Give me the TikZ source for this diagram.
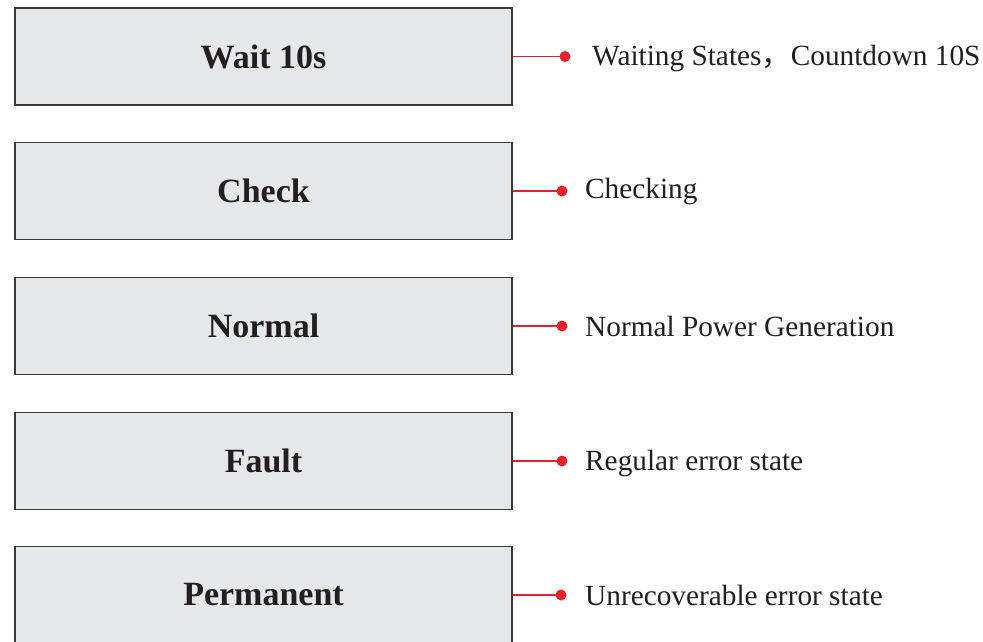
\documentclass[tikz,border=0pt]{standalone}
\usepackage{fontspec}
\setmainfont{Liberation Serif}
\newfontfamily\cjk{Noto Sans CJK SC}
\definecolor{boxfill}{HTML}{E6E7E9}
\definecolor{boxline}{HTML}{3A3A3C}
\definecolor{lead}{HTML}{E8202A}
\definecolor{ink}{HTML}{231F20}
\begin{document}
\begin{tikzpicture}[x=1pt,y=-1pt,
  statebox/.style={draw=boxline, line width=1.3pt, fill=boxfill, minimum width=497pt, minimum height=97pt, inner sep=0pt, font=\fontsize{34}{38}\selectfont\bfseries, text=ink},
  leader/.style={draw=lead, line width=1.2pt},
  leaddot/.style={circle, fill=lead, inner sep=0pt, minimum size=11pt},
  desc/.style={anchor=west, inner sep=0pt, font=\fontsize{29.3}{33}\selectfont, text=ink}]
\useasboundingbox (0,0) rectangle (983,642);
\clip (0,0) rectangle (983,642);
\node[statebox] (b1) at (263.5,56.5) {Wait 10s};
\node[statebox] (b2) at (263.5,191) {Check};
\node[statebox] (b3) at (263.5,326) {Normal};
\node[statebox] (b4) at (263.5,461) {Fault};
\node[statebox] (b5) at (263.5,595) {Permanent};
\node[leaddot] (d1) at (565,56.5) {};
\node[leaddot] (d2) at (562,191) {};
\node[leaddot] (d3) at (562,326) {};
\node[leaddot] (d4) at (562,461) {};
\node[leaddot] (d5) at (561,595) {};
\draw[leader] (b1.east) -- (d1.center);
\draw[leader] (b2.east) -- (d2.center);
\draw[leader] (b3.east) -- (d3.center);
\draw[leader] (b4.east) -- (d4.center);
\draw[leader] (b5.east) -- (d5.center);
\node[desc] (t1) at (592,58) {Waiting States{\cjk ，}Countdown 10S};
\node[desc] (t2) at (585,191) {Checking};
\node[desc] (t3) at (585,326) {Normal Power Generation};
\node[desc] (t4) at (585,463) {Regular error state};
\node[desc] (t5) at (585,595) {Unrecoverable error state};
\end{tikzpicture}
\end{document}
